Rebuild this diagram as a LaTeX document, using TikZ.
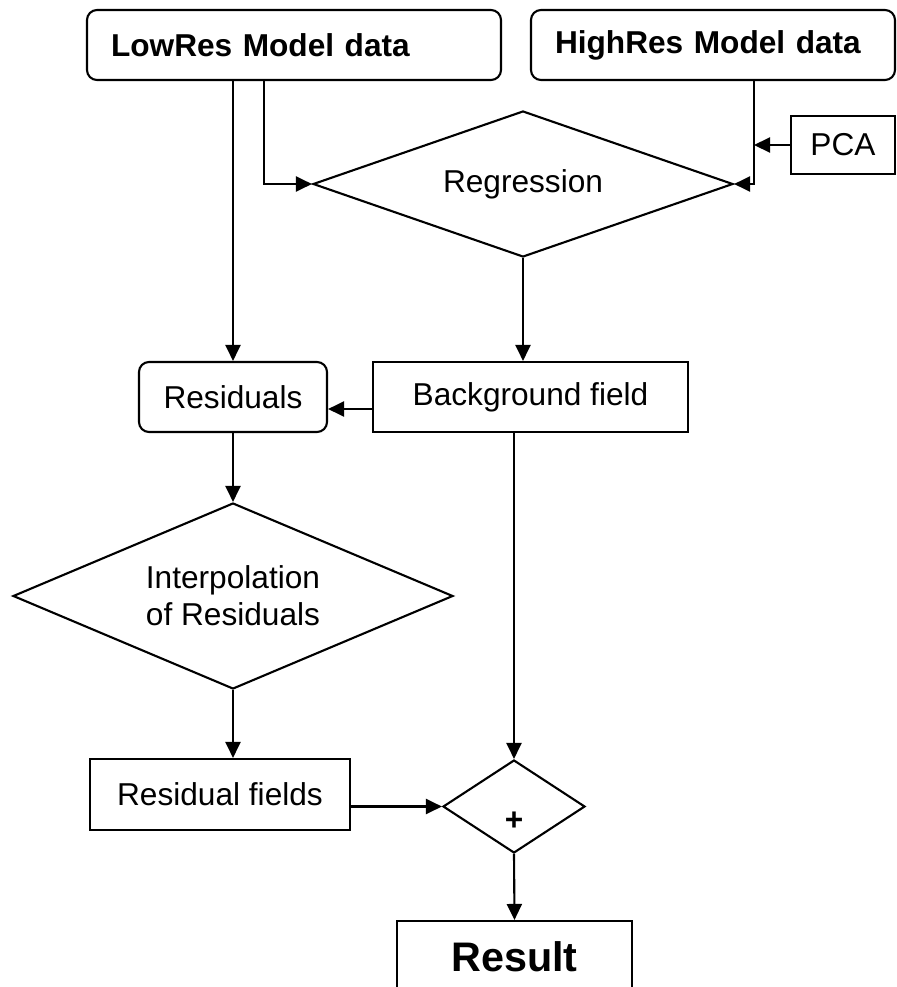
\documentclass[tikz,border=0pt]{standalone}
\usepackage{fontspec}
\setmainfont{Liberation Sans}
\usetikzlibrary{arrows.meta, shapes.geometric}

\begin{document}
\begin{tikzpicture}[line width=1.2pt,
  every node/.style={font=\fontsize{18}{21}\selectfont, draw, inner sep=0pt, align=center},
  box/.style={rectangle},
  rbox/.style={rectangle, rounded corners=0.2cm},
  dec/.style={diamond},
  arr/.style={-{Triangle[length=0.32cm, width=0.3cm]}}]
  \path[use as bounding box, clip] (0,0) rectangle (17.92,-19.74);

  % inputs
  \node[rbox, minimum height=1.4cm, text width=7.32cm, inner xsep=0.48cm, align=left, font=\fontsize{18}{21}\selectfont\bfseries] (low) at (5.88,-0.90) {LowRes Model data};
  \node[rbox, minimum height=1.4cm, text width=6.32cm, inner xsep=0.48cm, align=left, font=\fontsize{18}{21}\selectfont\bfseries] (high) at (14.26,-0.90) {HighRes Model data};
  \node[box, minimum width=2.08cm, minimum height=1.16cm] (pca) at (16.86,-2.90) {PCA};
  \node[dec, minimum width=8.4cm, minimum height=2.92cm, shape aspect=2.88] (reg) at (10.46,-3.68) {Regression};

  % middle
  \node[rbox, minimum width=3.76cm, minimum height=1.4cm] (resid) at (4.66,-7.94) {Residuals};
  \node[box, minimum width=6.3cm, minimum height=1.4cm] (bg) at (10.61,-7.94) {Background field};
  \node[dec, minimum width=8.8cm, minimum height=3.72cm, shape aspect=2.37] (interp) at (4.66,-11.92) {Interpolation\\of Residuals};

  % output
  \node[box, minimum width=5.2cm, minimum height=1.42cm] (rfield) at (4.40,-15.89) {Residual fields};
  \node[dec, minimum width=2.84cm, minimum height=1.86cm, shape aspect=1.53, font=\fontsize{18}{21}\selectfont\bfseries] (plus) at (10.28,-16.13) {\raisebox{-0.47cm}[0pt][0pt]{+}};
  \node[box, minimum width=4.7cm, minimum height=1.44cm, font=\fontsize{23.5}{28}\selectfont\bfseries] (result) at (10.29,-19.14) {Result};

  \coordinate (hline) at ([xshift=0.82cm]high.south);

  \draw[arr] (low.south -| resid.north) -- (resid.north);
  \draw[arr] ([xshift=-0.6cm]low.south) |- (reg.west);
  \draw[arr] (hline) |- (reg.east);
  \draw[arr] (pca.west) -- (pca.west -| hline);
  \draw[arr] (reg.south) -- (reg.south |- bg.north);
  \draw[arr] ([yshift=-0.24cm]bg.west) -- ([yshift=-0.24cm]resid.east);
  \draw[arr] (resid.south) -- (interp.north);
  \draw[arr] (interp.south) -- (interp.south |- rfield.north);
  \draw[arr] (bg.south -| plus.north) -- (plus.north);
  \draw[arr] (rfield.east |- plus.west) -- (plus.west);
  \draw[arr] (plus.south) -- (result.north);
\end{tikzpicture}
\end{document}
